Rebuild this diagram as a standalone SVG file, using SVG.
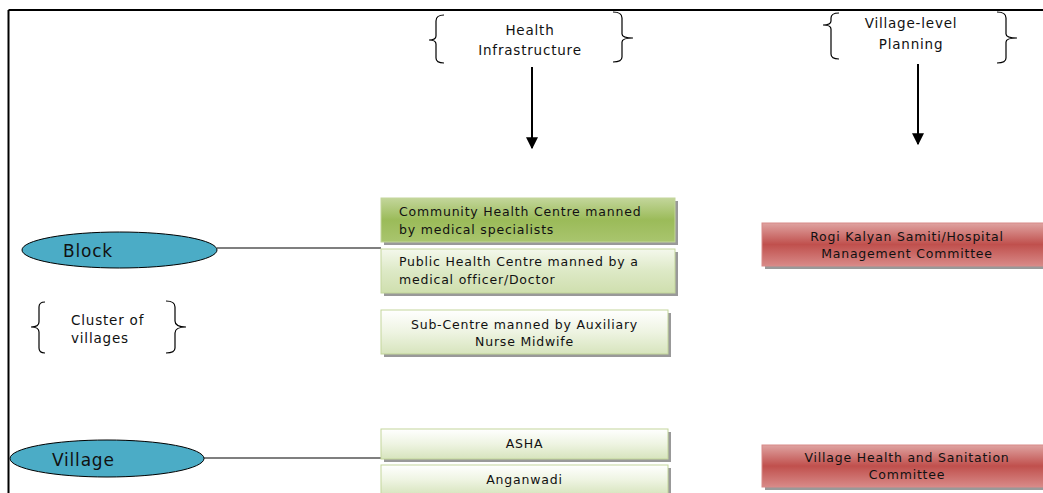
<svg xmlns="http://www.w3.org/2000/svg" width="1043" height="493" viewBox="0 0 1043 493">
<defs>
<linearGradient id="gDark" x1="0" y1="0" x2="0" y2="1">
<stop offset="0" stop-color="#c3d69b"/><stop offset="0.5" stop-color="#9bbb59"/><stop offset="1" stop-color="#a9c56e"/>
</linearGradient>
<linearGradient id="gMid" x1="0" y1="0" x2="0" y2="1">
<stop offset="0" stop-color="#f4f8ec"/><stop offset="0.5" stop-color="#dde9c6"/><stop offset="1" stop-color="#cfdfae"/>
</linearGradient>
<linearGradient id="gLight" x1="0" y1="0" x2="0" y2="1">
<stop offset="0" stop-color="#ffffff"/><stop offset="0.5" stop-color="#eef4e2"/><stop offset="1" stop-color="#d7e4bd"/>
</linearGradient>
<linearGradient id="gRed" x1="0" y1="0" x2="0" y2="1">
<stop offset="0" stop-color="#dfa3a1"/><stop offset="0.5" stop-color="#c0504d"/><stop offset="1" stop-color="#d88a88"/>
</linearGradient>
<marker id="arr" viewBox="0 0 10 10" refX="9" refY="5" markerWidth="6" markerHeight="6" orient="auto">
<path d="M0,0 L10,5 L0,10 z" fill="#000"/>
</marker>
</defs>
<style>
text{font-family:"DejaVu Sans","Liberation Sans",sans-serif;fill:#111}
.t{font-size:12.5px;letter-spacing:0.8px}
.h{font-size:13.5px;letter-spacing:0.8px}
.big{font-size:17px;letter-spacing:0.8px}
.c{text-anchor:middle}
.brace{fill:none;stroke:#000;stroke-width:1.2}
.shadow{fill:#7f7f7f;opacity:0.8}
.gbox{stroke:#c3d69b;stroke-width:1}
.rbox{stroke:#d88a88;stroke-width:1}
.ell{fill:#4bacc6;stroke:#000;stroke-width:1}
.conn{stroke:#000;stroke-width:1.2;fill:none}
.arrow{stroke:#000;stroke-width:2;fill:none}
</style>
<rect width="1043" height="493" fill="#fff"/>
<g id="frame">
<line x1="8.5" y1="10" x2="1043" y2="10" stroke="#000" stroke-width="2"/>
<line x1="8.5" y1="10" x2="8.5" y2="493" stroke="#000" stroke-width="2"/>
</g>
<g id="connectors">
<line class="conn" x1="217" y1="248" x2="381" y2="248"/>
<line class="conn" x1="204" y1="458" x2="381" y2="458"/>
<line class="arrow" x1="532" y1="67" x2="532" y2="148" marker-end="url(#arr)"/>
<line class="arrow" x1="918" y1="64" x2="918" y2="144" marker-end="url(#arr)"/>
</g>
<g id="hdr-health">
<path class="brace" d="M444,15 Q436,15 436,21 L436,36 Q436,40 429,40 Q436,40 436,44 L436,58 Q436,63 444,63"/>
<path class="brace" d="M613,12 Q622,12 622,18 L622,34 Q622,38 633,38 Q622,38 622,42 L622,57 Q622,62 613,62"/>
<text class="h c" x="530" y="35">Health</text>
<text class="h c" x="530" y="55">Infrastructure</text>
</g>
<g id="hdr-village">
<path class="brace" d="M839,13 Q831,13 831,18 L831,21 Q831,25 823,25 Q831,25 831,29 L831,54 Q831,59 839,59"/>
<path class="brace" d="M997,12 Q1006,12 1006,18 L1006,34 Q1006,38 1017,38 Q1006,38 1006,42 L1006,58 Q1006,63 997,63"/>
<text class="h c" x="911" y="28">Village-level</text>
<text class="h c" x="911" y="49">Planning</text>
</g>
<g id="block">
<ellipse class="ell" cx="119.5" cy="250" rx="97.5" ry="18"/>
<text class="big" x="63" y="257">Block</text>
</g>
<g id="cluster">
<path class="brace" d="M45,302 Q39,302 39,307 L39,322 Q39,327 31,327 Q39,327 39,332 L39,348 Q39,353 45,353"/>
<path class="brace" d="M166,301 Q175,301 175,307 L175,321 Q175,327 186,327 Q175,327 175,333 L175,348 Q175,353 166,353"/>
<text class="h" x="71" y="325">Cluster of</text>
<text class="h" x="71" y="343">villages</text>
</g>
<g id="village">
<ellipse class="ell" cx="107" cy="458.5" rx="97" ry="18.5"/>
<text class="big" x="52" y="466">Village</text>
</g>
<g id="chc">
<rect class="shadow" x="384" y="201" width="294" height="44"/>
<rect class="gbox" x="381" y="198" width="294" height="44" fill="url(#gDark)"/>
<text class="t" x="399" y="216">Community Health Centre manned</text>
<text class="t" x="399" y="234">by medical specialists</text>
</g>
<g id="phc">
<rect class="shadow" x="384" y="252" width="294" height="44"/>
<rect class="gbox" x="381" y="249" width="294" height="44" fill="url(#gMid)"/>
<text class="t" x="399" y="266">Public Health Centre manned by a</text>
<text class="t" x="399" y="284">medical officer/Doctor</text>
</g>
<g id="subcentre">
<rect class="shadow" x="384" y="313" width="287" height="44"/>
<rect class="gbox" x="381" y="310" width="287" height="44" fill="url(#gLight)"/>
<text class="t c" x="524.5" y="329">Sub-Centre manned by Auxiliary</text>
<text class="t c" x="524.5" y="346">Nurse Midwife</text>
</g>
<g id="asha">
<rect class="shadow" x="384" y="432" width="287" height="30"/>
<rect class="gbox" x="381" y="429" width="287" height="30" fill="url(#gLight)"/>
<text class="t c" x="524.5" y="448">ASHA</text>
</g>
<g id="anganwadi">
<rect class="shadow" x="384" y="468" width="287" height="30"/>
<rect class="gbox" x="381" y="465" width="287" height="30" fill="url(#gLight)"/>
<text class="t c" x="524.5" y="484">Anganwadi</text>
</g>
<g id="rks">
<rect class="shadow" x="765" y="226" width="290" height="43"/>
<rect class="rbox" x="762" y="223" width="290" height="43" fill="url(#gRed)"/>
<text class="t c" x="907" y="241">Rogi Kalyan Samiti/Hospital</text>
<text class="t c" x="907" y="258">Management Committee</text>
</g>
<g id="vhsc">
<rect class="shadow" x="765" y="448" width="290" height="42"/>
<rect class="rbox" x="762" y="445" width="290" height="42" fill="url(#gRed)"/>
<text class="t c" x="907" y="462">Village Health and Sanitation</text>
<text class="t c" x="907" y="479">Committee</text>
</g>
</svg>
